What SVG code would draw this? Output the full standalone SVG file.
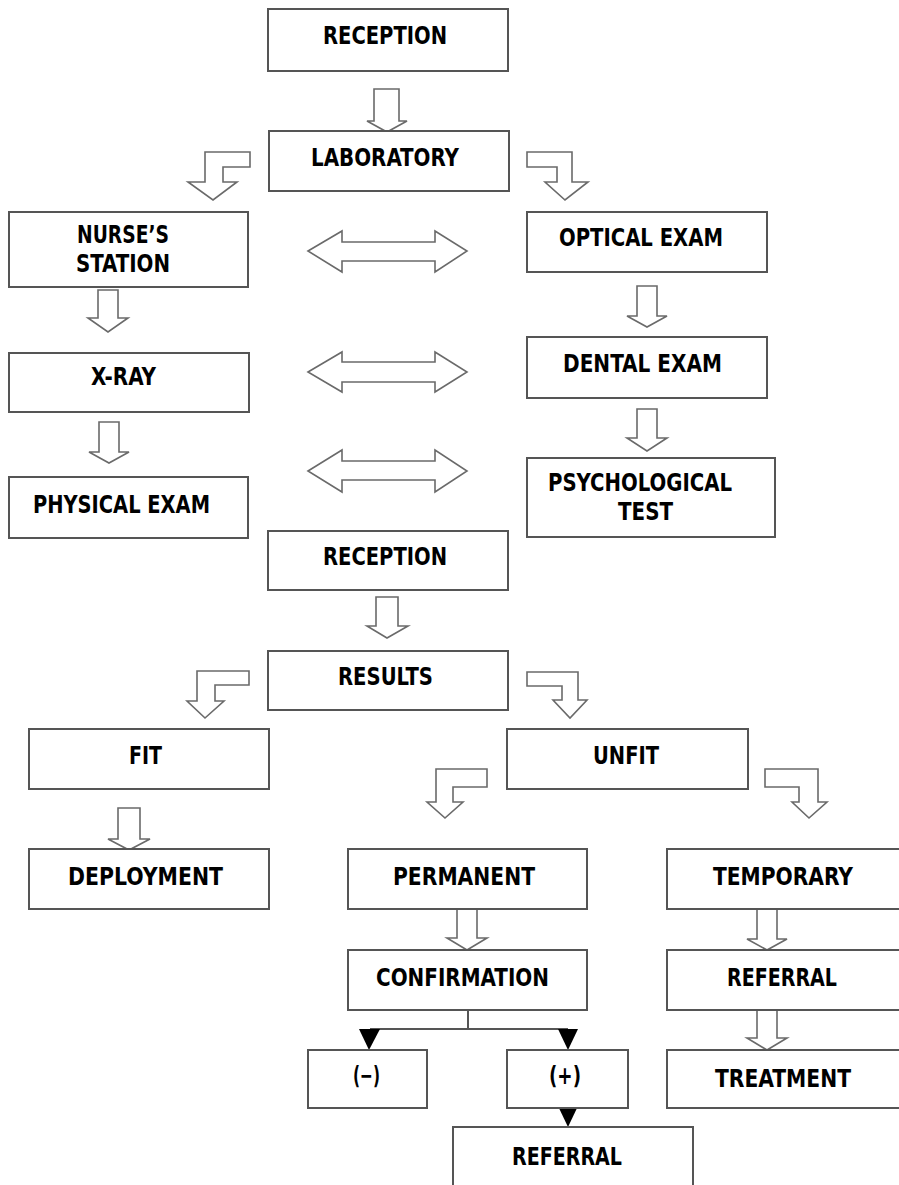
<svg xmlns="http://www.w3.org/2000/svg" width="899" height="1185" viewBox="0 0 899 1185">
<style>
.box{fill:#fff;stroke:#555;stroke-width:2}
.arr{fill:#fff;stroke:#6a6a6a;stroke-width:1.6;stroke-linejoin:miter}
.tri{fill:#000;stroke:none}
.ln{fill:none;stroke:#555;stroke-width:2}
text{font-family:"DejaVu Sans Condensed","DejaVu Sans",sans-serif;font-weight:bold;font-size:25px;fill:#000}
</style>
<rect width="899" height="1185" fill="#fff"/>
<g id="connectors">
<path class="arr" d="M374,89 H399 V121 H407 L387,132 L367,121 H374 Z"/>
<path class="arr" d="M98,290 H118 V318 H128 L108,332 L88,318 H98 Z"/>
<path class="arr" d="M99,422 H119 V452 H129 L109,463 L89,452 H99 Z"/>
<path class="arr" d="M637,286 H657 V316 H667 L647,327 L627,316 H637 Z"/>
<path class="arr" d="M637,409 H657 V438 H667 L647,451 L627,438 H637 Z"/>
<path class="arr" d="M376,597 H398 V626 H408 L387,638 L367,626 H376 Z"/>
<path class="arr" d="M118,808 H140 V839 H150 L129,850 L108,839 H118 Z"/>
<path class="arr" d="M457,909 H477 V938 H487 L467,950 L447,938 H457 Z"/>
<path class="arr" d="M757,909 H777 V939 H787 L767,950 L747,939 H757 Z"/>
<path class="arr" d="M757,1010 H777 V1038 H787 L767,1050 L747,1038 H757 Z"/>
<path class="arr" d="M308,251 L342,231 V242 H435 V231 L467,251 L435,272 V261 H342 V272 Z"/>
<path class="arr" d="M308,372 L342,352 V362 H435 V352 L467,372 L435,392 V382 H342 V392 Z"/>
<path class="arr" d="M308,471 L342,450 V461 H435 V450 L467,471 L435,492 V480 H342 V492 Z"/>
<path class="arr" d="M250,152 L205,152 L205,182 L188,182 L213,200 L237,182 L223,182 L223,167 L250,167 Z"/>
<path class="arr" d="M527,152 L572,152 L572,182 L588,182 L565,200 L545,182 L557,182 L557,167 L527,167 Z"/>
<path class="arr" d="M249,671 L197,671 L197,701 L187,701 L205,718 L224,701 L215,701 L215,685 L249,685 Z"/>
<path class="arr" d="M527,672 L578,672 L578,700 L587,700 L570,718 L553,700 L562,700 L562,686 L527,686 Z"/>
<path class="arr" d="M487,769 L436,769 L436,802 L427,802 L445,818 L463,802 L453,802 L453,787 L487,787 Z"/>
<path class="arr" d="M765,769 L818,769 L818,802 L827,802 L809,818 L792,802 L799,802 L799,787 L765,787 Z"/>
<path class="ln" d="M468,1010 V1029 M370,1029 H568"/>
<path class="tri" d="M359,1029 H380 L369,1050 Z"/>
<path class="tri" d="M558,1029 H578 L568,1050 Z"/>
<path class="tri" d="M558,1106 H578 L568,1127 Z"/>
</g>
<g id="reception1"><rect class="box" x="268" y="9" width="240" height="62"/><text x="323" y="44" textLength="124" lengthAdjust="spacingAndGlyphs">RECEPTION</text></g>
<g id="laboratory"><rect class="box" x="269" y="131" width="240" height="60"/><text x="311" y="166" textLength="148" lengthAdjust="spacingAndGlyphs">LABORATORY</text></g>
<g id="nurses"><rect class="box" x="9" y="212" width="239" height="75"/><text x="77" y="243" textLength="92" lengthAdjust="spacingAndGlyphs">NURSE’S</text><text x="76" y="272" textLength="94" lengthAdjust="spacingAndGlyphs">STATION</text></g>
<g id="xray"><rect class="box" x="9" y="353" width="240" height="59"/><text x="91" y="385" textLength="65" lengthAdjust="spacingAndGlyphs">X-RAY</text></g>
<g id="physical"><rect class="box" x="9" y="477" width="239" height="61"/><text x="33" y="513" textLength="177" lengthAdjust="spacingAndGlyphs">PHYSICAL EXAM</text></g>
<g id="optical"><rect class="box" x="527" y="212" width="240" height="60"/><text x="559" y="246" textLength="164" lengthAdjust="spacingAndGlyphs">OPTICAL EXAM</text></g>
<g id="dental"><rect class="box" x="527" y="337" width="240" height="61"/><text x="563" y="372" textLength="159" lengthAdjust="spacingAndGlyphs">DENTAL EXAM</text></g>
<g id="psych"><rect class="box" x="527" y="458" width="248" height="79"/><text x="548" y="491" textLength="184" lengthAdjust="spacingAndGlyphs">PSYCHOLOGICAL</text><text x="618" y="520" textLength="55" lengthAdjust="spacingAndGlyphs">TEST</text></g>
<g id="reception2"><rect class="box" x="268" y="531" width="240" height="59"/><text x="323" y="565" textLength="124" lengthAdjust="spacingAndGlyphs">RECEPTION</text></g>
<g id="results"><rect class="box" x="268" y="651" width="240" height="59"/><text x="338" y="685" textLength="95" lengthAdjust="spacingAndGlyphs">RESULTS</text></g>
<g id="fit"><rect class="box" x="29" y="729" width="240" height="60"/><text x="129" y="764" textLength="33" lengthAdjust="spacingAndGlyphs">FIT</text></g>
<g id="unfit"><rect class="box" x="507" y="729" width="241" height="60"/><text x="593" y="764" textLength="66" lengthAdjust="spacingAndGlyphs">UNFIT</text></g>
<g id="deployment"><rect class="box" x="29" y="849" width="240" height="60"/><text x="68" y="885" textLength="155" lengthAdjust="spacingAndGlyphs">DEPLOYMENT</text></g>
<g id="permanent"><rect class="box" x="348" y="849" width="239" height="60"/><text x="393" y="885" textLength="142" lengthAdjust="spacingAndGlyphs">PERMANENT</text></g>
<g id="temporary"><rect class="box" x="667" y="849" width="236" height="60"/><text x="713" y="885" textLength="140" lengthAdjust="spacingAndGlyphs">TEMPORARY</text></g>
<g id="confirmation"><rect class="box" x="348" y="950" width="239" height="60"/><text x="376" y="986" textLength="173" lengthAdjust="spacingAndGlyphs">CONFIRMATION</text></g>
<g id="referral1"><rect class="box" x="667" y="950" width="236" height="60"/><text x="727" y="986" textLength="110" lengthAdjust="spacingAndGlyphs">REFERRAL</text></g>
<g id="minus"><rect class="box" x="308" y="1050" width="119" height="58"/><text x="353" y="1084" textLength="27" lengthAdjust="spacingAndGlyphs">(−)</text></g>
<g id="plus"><rect class="box" x="507" y="1050" width="121" height="58"/><text x="549" y="1084" textLength="32" lengthAdjust="spacingAndGlyphs">(+)</text></g>
<g id="treatment"><rect class="box" x="667" y="1050" width="236" height="58"/><text x="715" y="1087" textLength="136" lengthAdjust="spacingAndGlyphs">TREATMENT</text></g>
<g id="referral2"><rect class="box" x="453" y="1127" width="240" height="70"/><text x="512" y="1165" textLength="110" lengthAdjust="spacingAndGlyphs">REFERRAL</text></g>
</svg>
